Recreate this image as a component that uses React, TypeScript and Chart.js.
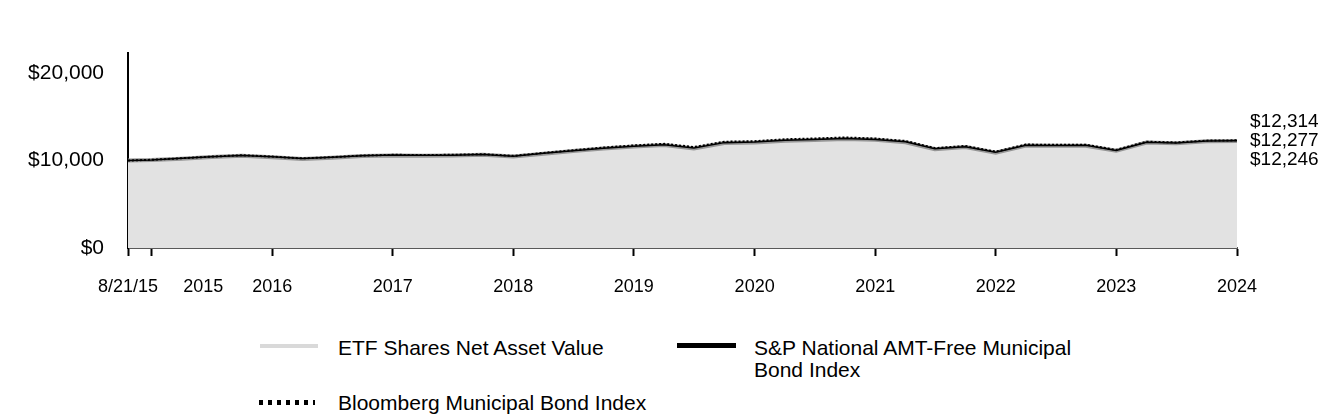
import React, { useEffect, useRef } from 'react';
import { Chart, registerables } from 'chart.js';

Chart.register(...registerables);

// Period-end dates (inception, then fiscal quarter ends)
const DATES = [
  '2015-08-21', '2015-10-31',
  '2016-01-31', '2016-04-30', '2016-07-31', '2016-10-31',
  '2017-01-31', '2017-04-30', '2017-07-31', '2017-10-31',
  '2018-01-31', '2018-04-30', '2018-07-31', '2018-10-31',
  '2019-01-31', '2019-04-30', '2019-07-31', '2019-10-31',
  '2020-01-31', '2020-04-30', '2020-07-31', '2020-10-31',
  '2021-01-31', '2021-04-30', '2021-07-31', '2021-10-31',
  '2022-01-31', '2022-04-30', '2022-07-31', '2022-10-31',
  '2023-01-31', '2023-04-30', '2023-07-31', '2023-10-31',
  '2024-01-31', '2024-04-30', '2024-07-31', '2024-10-31',
];

const ETF_NAV = [
  10000, 10050,
  10220, 10400, 10550, 10390,
  10190, 10330, 10510, 10590,
  10560, 10580, 10650, 10460,
  10790, 11080, 11370, 11610,
  11780, 11380, 12000, 12060,
  12270, 12350, 12470, 12370,
  12100, 11300, 11540, 10910,
  11720, 11690, 11700, 11120,
  12060, 11980, 12200, 12246,
];

const SP_INDEX = [
  10000, 10075,
  10250, 10430, 10585, 10425,
  10225, 10370, 10545, 10630,
  10600, 10620, 10690, 10500,
  10830, 11120, 11410, 11650,
  11820, 11450, 12050, 12110,
  12320, 12400, 12520, 12410,
  12140, 11340, 11580, 10950,
  11760, 11730, 11740, 11160,
  12100, 12020, 12240, 12277,
];

const BBG_INDEX = [
  10000, 10085,
  10268, 10451, 10609, 10451,
  10244, 10390, 10572, 10658,
  10633, 10658, 10731, 10536,
  10877, 11181, 11486, 11730,
  11912, 11547, 12156, 12217,
  12436, 12521, 12643, 12521,
  12241, 11425, 11669, 11023,
  11830, 11800, 11820, 11218,
  12156, 12071, 12278, 12314,
];

const SERIES_LABELS = [
  'ETF Shares Net Asset Value',
  'S&P National AMT-Free Municipal Bond Index',
  'Bloomberg Municipal Bond Index',
];

const X_TICK_DATES = [
  '2015-08-21', '2015-10-31', '2016-10-31', '2017-10-31', '2018-10-31',
  '2019-10-31', '2020-10-31', '2021-10-31', '2022-10-31', '2023-10-31', '2024-10-31',
];
const X_TICK_LABELS = [
  '8/21/15', '2015', '2016', '2017', '2018', '2019', '2020', '2021', '2022', '2023', '2024',
];

const Y_TICKS = [0, 10000, 20000];
const Y_MAX = 22300;

const FONT_FAMILY = '"Liberation Sans", Arial, Helvetica, sans-serif';
// The "2015" label is nudged right so it does not collide with the inception label
const LABEL_NUDGE_DAYS = 157;

const DAY_MS = 86400000;
const dayNum = (s: string) => {
  const [y, m, d] = s.split('-').map(Number);
  return Date.UTC(y, m - 1, d) / DAY_MS;
};
const START = dayNum(DATES[0]);
const toX = (s: string) => dayNum(s) - START;
const fmt = (v: number) => '$' + v.toLocaleString('en-US');

type XTick = { value: number; label: string; mark: boolean };
const buildXTicks = (): XTick[] => {
  const out: XTick[] = [];
  X_TICK_DATES.forEach((d, i) => {
    const v = toX(d);
    if (i === 1) {
      out.push({ value: v, label: '', mark: true });
      out.push({ value: v + LABEL_NUDGE_DAYS, label: X_TICK_LABELS[i], mark: false });
    } else {
      out.push({ value: v, label: X_TICK_LABELS[i], mark: true });
    }
  });
  return out;
};
const X_TICKS = buildXTicks();

const endLabels = {
  id: 'endLabels',
  afterDatasetsDraw(chart: any) {
    const { ctx, chartArea, scales } = chart;
    const ends: number[] = chart.data.datasets.map((ds: any) => ds.data[ds.data.length - 1].y);
    const sorted = [...ends].sort((a, b) => b - a);
    const mid = scales.y.getPixelForValue(sorted[1]);
    ctx.save();
    ctx.font = `19px ${FONT_FAMILY}`;
    ctx.fillStyle = '#000';
    ctx.textAlign = 'left';
    ctx.textBaseline = 'middle';
    sorted.forEach((v, i) => {
      ctx.fillText(fmt(v), chartArea.right + 13, mid + (i - 1) * 19);
    });
    ctx.restore();
  },
};

export default function App() {
  const canvasRef = useRef<HTMLCanvasElement | null>(null);

  useEffect(() => {
    if (!canvasRef.current) return;
    const pts = (arr: number[]) => arr.map((v, i) => ({ x: toX(DATES[i]), y: v }));
    const chart = new Chart(canvasRef.current, {
      type: 'line',
      data: {
        datasets: [
          {
            label: SERIES_LABELS[0],
            data: pts(ETF_NAV),
            borderColor: '#969696',
            backgroundColor: '#e2e2e2',
            borderWidth: 4,
            fill: 'origin',
            pointRadius: 0,
            tension: 0,
            order: 3,
          },
          {
            label: SERIES_LABELS[1],
            data: pts(SP_INDEX),
            borderColor: '#000',
            borderWidth: 1.5,
            fill: false,
            pointRadius: 0,
            tension: 0,
            order: 2,
          },
          {
            label: SERIES_LABELS[2],
            data: pts(BBG_INDEX),
            borderColor: '#000',
            borderWidth: 2,
            borderDash: [2, 2],
            fill: false,
            pointRadius: 0,
            tension: 0,
            order: 1,
          },
        ],
      },
      options: {
        animation: false,
        responsive: false,
        devicePixelRatio: 1,
        layout: { padding: { top: 53, right: 107, left: 0, bottom: 0 } },
        plugins: { legend: { display: false }, tooltip: { enabled: false } },
        scales: {
          x: {
            type: 'linear',
            min: 0,
            max: toX(DATES[DATES.length - 1]),
            border: { display: true, color: '#595959', width: 2 },
            grid: {
              display: true,
              drawOnChartArea: false,
              drawTicks: true,
              tickLength: 8,
              tickWidth: 2,
              tickColor: (c: any) => (X_TICKS[c.index] && X_TICKS[c.index].mark ? '#000' : 'rgba(0,0,0,0)'),
            },
            ticks: {
              autoSkip: false,
              maxRotation: 0,
              minRotation: 0,
              padding: 20,
              color: '#000',
              font: { size: 18, family: FONT_FAMILY },
              callback: (_v: any, i: number) => (X_TICKS[i] ? X_TICKS[i].label : ''),
            },
            afterBuildTicks: (scale: any) => {
              scale.ticks = X_TICKS.map((t) => ({ value: t.value }));
            },
            afterFit: (scale: any) => {
              scale.height = 62;
            },
          },
          y: {
            min: 0,
            max: Y_MAX,
            border: { display: true, color: '#000', width: 2 },
            grid: { display: true, drawOnChartArea: false, drawTicks: false },
            ticks: {
              padding: 24,
              color: '#000',
              font: { size: 21, family: FONT_FAMILY },
              callback: (v: any) => fmt(Number(v)),
            },
            afterBuildTicks: (scale: any) => {
              scale.ticks = Y_TICKS.map((v) => ({ value: v }));
            },
            afterFit: (scale: any) => {
              scale.width = 128;
            },
          },
        },
      },
      plugins: [endLabels],
    });
    return () => chart.destroy();
  }, []);

  const legendText: React.CSSProperties = {
    position: 'absolute',
    fontFamily: FONT_FAMILY,
    fontSize: 21,
    lineHeight: '22px',
    color: '#000',
    whiteSpace: 'normal',
  };

  return (
    <div style={{ position: 'absolute', left: 0, top: 0, width: 1344, height: 420, background: '#fff' }}>
      <canvas ref={canvasRef} width={1344} height={310} style={{ display: 'block', width: 1344, height: 310 }} />
      <div style={{ position: 'absolute', left: 260, top: 344, width: 58, height: 4, background: '#d9d9d9' }} />
      <div style={{ ...legendText, left: 338, top: 337 }}>{SERIES_LABELS[0]}</div>
      <div style={{ position: 'absolute', left: 677, top: 343, width: 59, height: 5, background: '#000' }} />
      <div style={{ ...legendText, left: 754, top: 337, width: 340 }}>{SERIES_LABELS[1]}</div>
      <div
        style={{
          position: 'absolute',
          left: 259,
          top: 400,
          width: 56,
          height: 5,
          background: 'repeating-linear-gradient(to right, #000 0px, #000 4px, transparent 4px, transparent 9px)',
        }}
      />
      <div style={{ ...legendText, left: 338, top: 392 }}>{SERIES_LABELS[2]}</div>
    </div>
  );
}
